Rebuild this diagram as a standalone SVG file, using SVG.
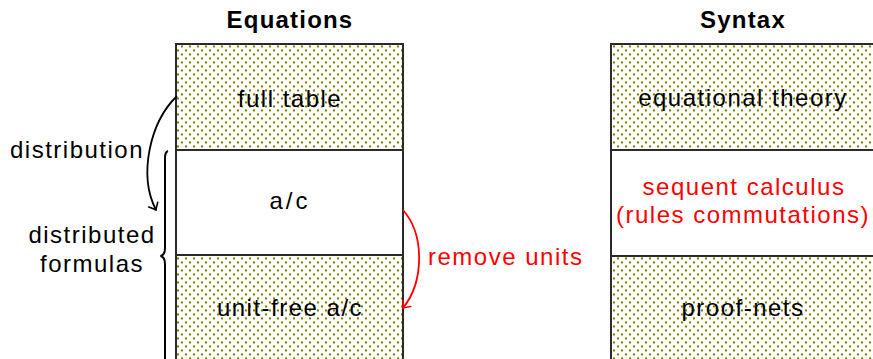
<svg xmlns="http://www.w3.org/2000/svg" width="873" height="359" viewBox="0 0 873 359">
  <defs>
    <pattern id="dots" patternUnits="userSpaceOnUse" x="0" y="0" width="8" height="8">
      <circle cx="2" cy="2.5" r="1.15" fill="#7f7f00"/>
      <circle cx="6" cy="6.5" r="1.15" fill="#7f7f00"/>
    </pattern>
    <marker id="tip-black" markerUnits="userSpaceOnUse" markerWidth="14" markerHeight="14" viewBox="-8 -7 10 14" refX="0" refY="0" orient="auto">
      <path d="M-6,-5 Q-1.5,-1 0,0 Q-1.5,1 -6,5" fill="none" stroke="#000" stroke-width="1.6" stroke-linecap="round"/>
    </marker>
    <marker id="tip-red" markerUnits="userSpaceOnUse" markerWidth="14" markerHeight="14" viewBox="-8 -7 10 14" refX="0" refY="0" orient="auto">
      <path d="M-6,-5 Q-1.5,-1 0,0 Q-1.5,1 -6,5" fill="none" stroke="#ff0000" stroke-width="1.6" stroke-linecap="round"/>
    </marker>
  </defs>
  <style>
    text { font-family: "Liberation Sans", Arial, sans-serif; font-size: 24px; letter-spacing: 1.5px; fill: #000; }
    .title { font-weight: bold; letter-spacing: 1.2px; }
    .red { fill: #ff0000; }
    .mid { text-anchor: middle; }
    .cell { stroke: #2a2a2a; stroke-width: 2; }
    .hatched { fill: url(#dots); }
    .plain { fill: #fff; }
  </style>

  <rect width="873" height="359" fill="#fff"/>

  <!-- column headings -->
  <g id="title-equations">
    <text class="title mid" x="290" y="28">Equations</text>
  </g>
  <g id="title-syntax">
    <text class="title mid" x="743" y="28">Syntax</text>
  </g>

  <!-- Equations column -->
  <g id="full-table">
    <rect class="cell hatched" x="176" y="44" width="227" height="106"/>
    <text class="mid" x="290" y="107">full table</text>
  </g>
  <g id="ac">
    <rect class="cell plain" x="176" y="150" width="227" height="105"/>
    <text class="mid" x="290" y="209" style="letter-spacing:3px">a/c</text>
  </g>
  <g id="unit-free-ac">
    <rect class="cell hatched" x="176" y="255" width="227" height="120"/>
    <text class="mid" x="290" y="316">unit-free a/c</text>
  </g>

  <!-- Syntax column -->
  <g id="equational-theory">
    <rect class="cell hatched" x="611" y="44" width="280" height="106"/>
    <text class="mid" x="743" y="106">equational theory</text>
  </g>
  <g id="sequent-calculus">
    <rect class="cell plain" x="611" y="150" width="280" height="106"/>
    <text class="mid red" x="744" y="195">sequent calculus</text>
    <text class="mid red" x="743" y="223">(rules commutations)</text>
  </g>
  <g id="proof-nets">
    <rect class="cell hatched" x="611" y="256" width="280" height="120"/>
    <text class="mid" x="743" y="316">proof-nets</text>
  </g>

  <!-- side labels -->
  <g id="label-distribution">
    <text x="10" y="158">distribution</text>
  </g>
  <g id="label-distributed-formulas">
    <text class="mid" x="92" y="243">distributed</text>
    <text class="mid" x="92" y="272">formulas</text>
  </g>
  <g id="label-remove-units">
    <text class="red" x="428" y="265">remove units</text>
  </g>

  <!-- connectors -->
  <g id="connectors" fill="none">
    <path d="M177,96 C150,122 138,175 156,210" stroke="#000" stroke-width="1.8" marker-end="url(#tip-black)"/>
    <path d="M168,151 Q165,152 165,158 L165,248 Q165,255 160.5,256 Q165,257 165,264 L165,370" stroke="#000" stroke-width="2"/>
    <path d="M403,210 C425,235 424,282 403,308" stroke="#ff0000" stroke-width="1.8" marker-end="url(#tip-red)"/>
  </g>
</svg>
